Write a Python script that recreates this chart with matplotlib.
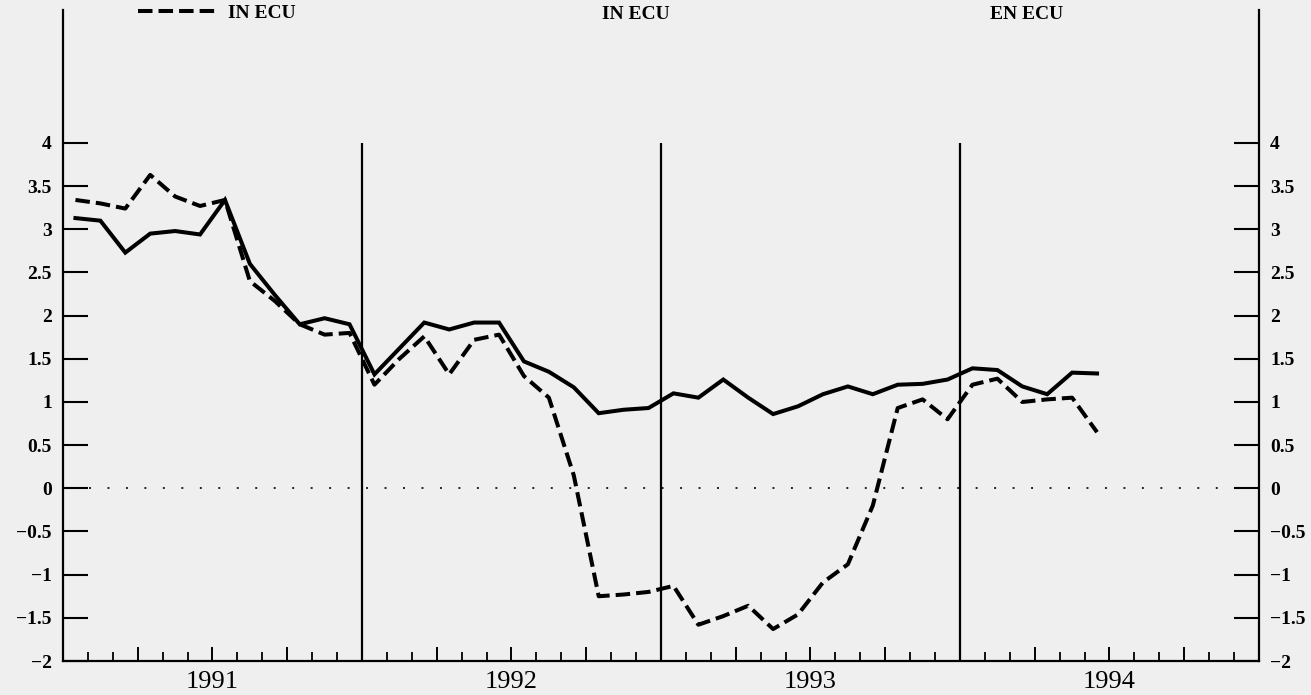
import numpy as np
import matplotlib
matplotlib.use("Agg")
import matplotlib.pyplot as plt

# monthly values, Jan 1991 - Jun 1994
solid_vals = [3.13, 3.10, 2.73, 2.95, 2.98, 2.94, 3.34, 2.60, 2.24, 1.90, 1.97, 1.90,
              1.32, 1.62, 1.92, 1.84, 1.92, 1.92, 1.47, 1.35, 1.17, 0.87, 0.91, 0.93,
              1.10, 1.05, 1.26, 1.05, 0.86, 0.95, 1.09, 1.18, 1.09, 1.20, 1.21, 1.26,
              1.39, 1.37, 1.18, 1.09, 1.34, 1.33]
ecu_vals = [3.34, 3.30, 3.24, 3.63, 3.38, 3.27, 3.34, 2.40, 2.17, 1.90, 1.78, 1.80,
            1.20, 1.50, 1.76, 1.32, 1.72, 1.78, 1.30, 1.05, 0.15, -1.25, -1.23, -1.20,
            -1.13, -1.58, -1.48, -1.36, -1.63, -1.46, -1.09, -0.88, -0.20, 0.93, 1.03, 0.80,
            1.20, 1.27, 1.00, 1.03, 1.05, 0.65]
years = ['1991', '1992', '1993', '1994']
ytick_vals = [-2, -1.5, -1, -0.5, 0, 0.5, 1, 1.5, 2, 2.5, 3, 3.5, 4]
ytick_labels = ['\u22122', '\u22121.5', '\u22121', '\u22120.5', '0', '0.5', '1', '1.5',
                '2', '2.5', '3', '3.5', '4']
header_labels = ['IN ECU', 'EN ECU']

bg = '#efefef'
font = 'Liberation Serif'
plt.rcParams['font.family'] = [font, 'DejaVu Serif']

fig = plt.figure(figsize=(13.11, 6.95), dpi=100, facecolor=bg)
ax = fig.add_axes([63 / 1311, 34 / 695, 1196 / 1311, 651 / 695])
ax.set_facecolor(bg)

n_months = 12 * len(years)
x = np.arange(len(solid_vals)) + 0.5

ax.plot(x, solid_vals, color='black', lw=2.9, solid_joinstyle='miter')
dash_line, = ax.plot(x, ecu_vals, color='black', lw=2.9, dashes=(3.6, 1.5))

# zero reference line (dotted)
ax.axhline(0, xmin=0.022, xmax=0.978, color='#222222', lw=1.4,
           linestyle=(0, (1, 8.5)))

# year separators
ax.vlines(np.arange(12, n_months, 12), -2, 4, color='black', lw=1.6)

ax.set_xlim(0, n_months)
ax.set_ylim(-2, 5.54)

ax.spines['top'].set_visible(False)
for s in ['left', 'right', 'bottom']:
    ax.spines[s].set_linewidth(1.6)

ax.set_yticks(ytick_vals)
ax.set_yticklabels(ytick_labels)
ax.tick_params(axis='y', which='both', direction='in', length=18, width=1.5,
               left=True, right=True, labelleft=True, labelright=True,
               labelsize=14, pad=8)
for lab in ax.get_yticklabels() + ax.get_yticklabels(which='both'):
    lab.set_fontweight('bold')

# quarterly major ticks, monthly minor ticks, year labels at mid-year
major = np.arange(0, n_months + 1, 3)
ax.set_xticks(major)
ax.set_xticklabels([years[(m - 6) // 12] if m % 12 == 6 else '' for m in major])
ax.set_xticks(np.arange(0, n_months + 1, 1), minor=True)
ax.tick_params(axis='x', which='major', direction='in', length=10, width=1.4,
               labelsize=19, pad=7)
ax.tick_params(axis='x', which='minor', direction='in', length=6.5, width=1.3)

# header legend and labels
fig.legend([dash_line], [header_labels[0]], loc='center left',
           bbox_to_anchor=(0.092, 0.981), frameon=False,
           handlelength=4.0, handletextpad=0.6,
           prop={'family': font, 'weight': 'bold', 'size': 14})
fig.text(0.485, 0.979, header_labels[0], ha='center', va='center',
         fontsize=14, fontweight='bold', family=font)
fig.text(0.783, 0.979, header_labels[1], ha='center', va='center',
         fontsize=14, fontweight='bold', family=font)

fig.savefig('out.png', dpi=100, facecolor=bg)
